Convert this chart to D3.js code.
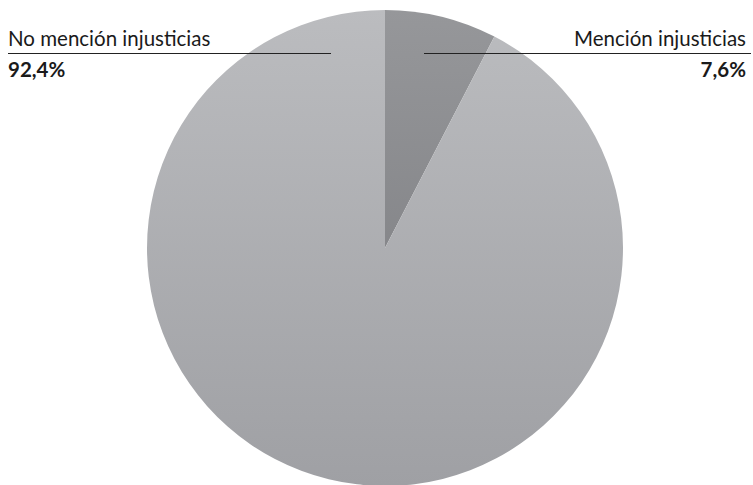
<!DOCTYPE html>
<html>
<head>
<meta charset="utf-8">
<script src="https://cdn.jsdelivr.net/npm/d3@7"></script>
<style>
  body { margin: 0; background: #fff; }
  text { font-family: Lato, "Open Sans", sans-serif; fill: #1a1a1a; }
</style>
</head>
<body>
<svg id="chart" width="753" height="485"></svg>
<script>
const categories = ['Mención injusticias', 'No mención injusticias']
const values = [7.6, 92.4]
const valueLabels = ['7,6%', '92,4%']

const width = 753
const height = 485
const cx = 385
const cy = 248
const radius = 238

const svg = d3.select('#chart')

const defs = svg.append('defs')
const grads = [
  { id: 'g-dark', top: '#96979a', bottom: '#76777b' },
  { id: 'g-light', top: '#bbbcbf', bottom: '#9fa0a4' }
]
grads.forEach(g => {
  const lg = defs.append('linearGradient')
    .attr('id', g.id)
    .attr('gradientUnits', 'userSpaceOnUse')
    .attr('x1', 0).attr('y1', -radius)
    .attr('x2', 0).attr('y2', radius)
  lg.append('stop').attr('offset', '0%').attr('stop-color', g.top)
  lg.append('stop').attr('offset', '100%').attr('stop-color', g.bottom)
})

const pie = d3.pie().sort(null)
const arc = d3.arc().innerRadius(0).outerRadius(radius)

svg.append('g')
  .attr('transform', `translate(${cx},${cy})`)
  .selectAll('path')
  .data(pie(values))
  .join('path')
  .attr('fill', (d, i) => `url(#${grads[i].id})`)
  .attr('d', arc)

// labels
const labelY = 46
const lineY = 53.5
const valueY = 77
const fs = 20.5

// left: No mención
svg.append('line')
  .attr('x1', 8).attr('x2', 331)
  .attr('y1', lineY).attr('y2', lineY)
  .attr('stroke', '#222').attr('stroke-width', 1)
svg.append('text')
  .attr('x', 8).attr('y', labelY)
  .attr('font-size', fs)
  .text(categories[1])
svg.append('text')
  .attr('x', 8).attr('y', valueY)
  .attr('font-size', fs)
  .attr('font-weight', 'bold')
  .text(valueLabels[1])

// right: Mención
svg.append('line')
  .attr('x1', 424).attr('x2', 751)
  .attr('y1', lineY).attr('y2', lineY)
  .attr('stroke', '#222').attr('stroke-width', 1)
svg.append('text')
  .attr('x', 746).attr('y', labelY)
  .attr('text-anchor', 'end')
  .attr('font-size', fs)
  .text(categories[0])
svg.append('text')
  .attr('x', 746).attr('y', valueY)
  .attr('text-anchor', 'end')
  .attr('font-size', fs)
  .attr('font-weight', 'bold')
  .text(valueLabels[0])
</script>
</body>
</html>
